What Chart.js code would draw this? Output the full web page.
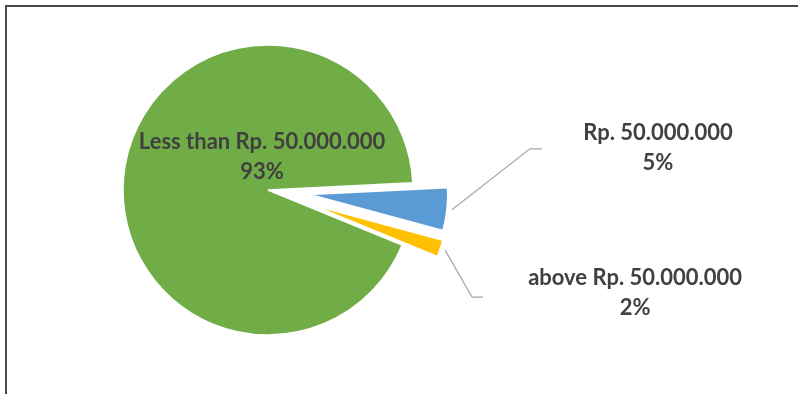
<!DOCTYPE html>
<html>
<head>
<meta charset="utf-8">
<script src="https://cdn.jsdelivr.net/npm/chart.js@4/dist/chart.umd.min.js"></script>
<style>
  html, body { margin: 0; padding: 0; background: #ffffff; }
  body { width: 798px; height: 394px; overflow: hidden; position: relative; }
  .frame {
    position: absolute; left: 5px; top: 5px; width: 900px; height: 500px;
    border: 2px solid #4a4a4a; box-sizing: border-box;
  }
  .wrap { position: absolute; left: 0; top: 0; width: 798px; height: 394px; }
</style>
</head>
<body>
<div class="frame"></div>
<div class="wrap"><canvas id="chart" width="798" height="394"></canvas></div>
<script>
// Income groups and their share of respondents
const categories = ['Less than Rp. 50.000.000', 'Rp. 50.000.000', 'above Rp. 50.000.000'];
const shares = [93, 5, 2];
const shareLabels = ['93%', '5%', '2%'];
const sliceColors = ['#70ad47', '#5b9bd5', '#ffc000'];

// How far each slice is pulled out of the pie, and its radius, in px
const pullOut = [0, 42, 46];
const sliceRadius = [145, 138, 136];

// Label placement: inside label offset from the pie centre, or callout elbow
// relative to the slice edge plus text anchor relative to the elbow
const labelLayout = [
  { inside: true, dx: -6, dy: -33 },
  { inside: false, elbow: [78, -61], tail: 12, text: [128, -1] },
  { inside: false, elbow: [27, 47], tail: 11, text: [163, -4] }
];

const TEXT_COLOR = '#404040';
const LEADER_COLOR = '#a6a6a6';
const FONT = 'bold 22px Lato, "Liberation Sans", sans-serif';
const LINE_GAP = 30;

// Pull slices out along their mid angle and give each its own radius
const explodePlugin = {
  id: 'explode',
  afterDatasetsUpdate(chart) {
    const arcs = chart.getDatasetMeta(0).data;
    arcs.forEach((arc, i) => {
      const mid = (arc.startAngle + arc.endAngle) / 2;
      arc.pieX = arc.x;
      arc.pieY = arc.y;
      arc.x += Math.cos(mid) * pullOut[i];
      arc.y += Math.sin(mid) * pullOut[i];
      arc.outerRadius = sliceRadius[i];
    });
  }
};

// Category / percentage labels with leader lines for the pulled-out slices
const calloutPlugin = {
  id: 'callouts',
  afterDatasetsDraw(chart) {
    const ctx = chart.ctx;
    const arcs = chart.getDatasetMeta(0).data;
    ctx.save();
    ctx.font = FONT;
    ctx.fillStyle = TEXT_COLOR;
    ctx.textAlign = 'center';
    ctx.textBaseline = 'middle';
    arcs.forEach((arc, i) => {
      const lay = labelLayout[i];
      const mid = (arc.startAngle + arc.endAngle) / 2;
      let tx, ty;
      if (lay.inside) {
        tx = arc.pieX + lay.dx;
        ty = arc.pieY + lay.dy;
      } else {
        const r = sliceRadius[i] + 5;
        const sx = arc.x + Math.cos(mid) * r;
        const sy = arc.y + Math.sin(mid) * r;
        const ex = sx + lay.elbow[0];
        const ey = sy + lay.elbow[1];
        ctx.strokeStyle = LEADER_COLOR;
        ctx.lineWidth = 1.2;
        ctx.beginPath();
        ctx.moveTo(sx, sy);
        ctx.lineTo(ex, ey);
        ctx.lineTo(ex + lay.tail, ey);
        ctx.stroke();
        tx = ex + lay.text[0];
        ty = ey + lay.text[1];
      }
      ctx.fillText(categories[i], tx, ty - LINE_GAP / 2);
      ctx.fillText(shareLabels[i], tx, ty + LINE_GAP / 2);
    });
    ctx.restore();
  }
};

new Chart(document.getElementById('chart'), {
  type: 'pie',
  data: {
    labels: categories,
    datasets: [{
      data: shares,
      backgroundColor: sliceColors,
      borderColor: '#ffffff',
      borderWidth: 1.5,
      clip: false
    }]
  },
  options: {
    responsive: false,
    animation: false,
    rotation: 112.35,
    radius: 145,
    layout: { padding: { left: 0, right: 262, top: 0, bottom: 14 } },
    plugins: {
      legend: { display: false },
      tooltip: { enabled: false }
    }
  },
  plugins: [explodePlugin, calloutPlugin]
});
</script>
</body>
</html>
